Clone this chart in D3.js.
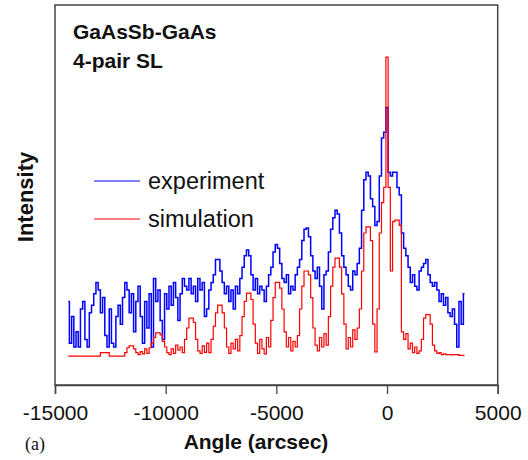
<!DOCTYPE html>
<html><head><meta charset="utf-8">
<script src="https://cdn.jsdelivr.net/npm/d3@7"></script>
<style>body{margin:0;background:#fff}svg{display:block}</style>
</head><body>
<svg id="c" width="528" height="460"></svg>
<script>
// sampling grid (arcsec): first angle and step between samples
const angleStart = -14400;
const angleStep = 100;
const xTicks = [-15000, -10000, -5000, 0, 5000];
const seriesNames = ["experiment", "simulation"];
const titleLines = ["GaAsSb-GaAs", "4-pair SL"];

const experiment = [
  22, 11, 18, 10, 14, 10, 20, 22, 12, 10,
  19, 21, 24, 27, 25, 19, 23, 13, 10, 20,
  11, 10, 18, 21, 16, 23, 27, 25, 19, 24,
  14, 22, 26, 18, 11, 22, 15, 24, 10, 28,
  22, 25, 17, 12, 24, 20, 26, 21, 27, 23,
  17, 24, 28, 26, 25, 28, 24, 26, 22, 28,
  25, 27, 18, 20, 25, 27, 29, 33, 33, 30,
  27, 24, 26, 22, 25, 20, 26, 24, 28, 31,
  34, 35.5, 34, 29, 25, 28, 24, 26, 25, 22,
  26, 29, 31, 35, 37, 36, 32, 28, 27, 29,
  24, 26, 25, 29, 31, 33, 38, 41, 41.3, 39,
  34, 30, 28, 31, 26, 20, 29, 30, 35, 41,
  44, 46, 45, 40, 34, 31, 29, 26, 25, 30,
  29, 32, 36, 46, 54, 56, 55, 49, 47, 42,
  43, 55, 65, 66.5, 73, 56, 55, 56, 56, 52,
  50, 40, 36, 34, 31, 27, 29, 26, 25, 30,
  31, 32, 33, 29, 27, 26, 27, 25, 22, 24,
  21, 23, 19, 18, 20, 16, 10, 22, 16, 24
];
const simulation = [
  7.6, 7.6, 7.6, 7.6, 7.6, 7.6, 7.6, 7.6, 7.6, 7.6,
  7.6, 7.6, 7.6, 7.6, 7.6, 8.5, 8.5, 8.5, 8.5, 7.6,
  7.6, 7.6, 7.6, 7.6, 7.6, 7.6, 8.5, 9.8, 10.3, 10.3,
  9.5, 8.5, 8.0, 8.8, 8.2, 9.5, 8.3, 9.8, 11, 12.5,
  13.7, 13.7, 13.2, 11.5, 10, 8.5, 8.0, 9.5, 8.3, 10.5,
  9.2, 10, 8.5, 12, 15, 17.6, 17.6, 16.5, 12, 9,
  8.3, 10.3, 8.6, 11, 8.5, 12, 15.5, 19, 21, 21,
  19, 15, 10, 8.3, 11, 9.5, 12, 9, 13, 18,
  22, 24.2, 24.2, 22.5, 16, 11, 8.3, 12, 9.5, 8.2,
  12.5, 10, 17, 23, 27, 27, 25.5, 20, 14, 10,
  12.5, 9, 11.5, 10, 13, 20, 26, 30, 30, 29,
  23, 15, 10.5, 9, 12.5, 10, 13.5, 10.5, 18, 26,
  31, 33.4, 33.4, 31, 24, 16, 9.5, 12.5, 10, 14.5,
  12, 15, 20, 30, 40, 41.6, 41.6, 38, 16, 8.7,
  20, 40, 48, 52, 86.3, 52, 30, 43, 43.4, 43.4,
  42, 14, 12, 13.5, 9.5, 11, 8.5, 10, 8.3, 9,
  12, 17.6, 18.5, 18.5, 16, 10.5, 9, 8.3, 8.5, 8.0,
  8.2, 8.0, 8.0, 7.9, 8.0, 8.0, 8.0, 7.8, 7.8, 7.8
];

const svg = d3.select("#c");
const L = 55, R = 497.7, T = 5, B = 385;
const x = d3.scaleLinear().domain([-15000, 5000]).range([L, R]);
const y = d3.scaleLinear().domain([0, 100]).range([B, T]);

const toPts = arr => arr.map((v, i) => [angleStart + i * angleStep, v]);
const line = d3.line().x(d => x(d[0])).y(d => y(d[1])).curve(d3.curveStep);

svg.append("path").attr("d", line(toPts(experiment)))
  .attr("fill", "none").attr("stroke", "#0000ff").attr("stroke-width", 1.5);
svg.append("path").attr("d", line(toPts(simulation)))
  .attr("fill", "none").attr("stroke", "#ff0000").attr("stroke-width", 1.2);

// frame
svg.append("rect").attr("x", L).attr("y", T).attr("width", R - L).attr("height", B - T)
  .attr("fill", "none").attr("stroke", "#444").attr("stroke-width", 1.5);

// x axis
const ax = d3.axisBottom(x).tickValues(xTicks).tickSize(9).tickFormat(d3.format("d"));
const g = svg.append("g").attr("transform", `translate(0,${B})`).call(ax);
g.select(".domain").attr("stroke", "#444").attr("stroke-width", 1.5);
g.selectAll(".tick line").attr("stroke", "#444").attr("stroke-width", 1.3);
g.selectAll(".tick text").attr("y", 35).attr("dy", 0)
  .attr("font-family", "Liberation Sans, Arial, sans-serif").attr("font-size", 21).attr("fill", "#111")
  .text(d => d < 0 ? "-" + Math.abs(d) : d);

// titles
const tg = svg.append("g").attr("font-family", "Liberation Sans, Arial, sans-serif").attr("font-weight", "bold").attr("fill", "#111");
tg.selectAll("text.t").data(titleLines).join("text").attr("class", "t")
  .attr("x", 73).attr("y", (d, i) => 39 + i * 29).attr("font-size", 21).text(d => d);
tg.append("text").attr("x", 256).attr("y", 449).attr("text-anchor", "middle").attr("font-size", 21).text("Angle (arcsec)");
tg.append("text").attr("transform", "translate(33,197) rotate(-90)").attr("text-anchor", "middle").attr("font-size", 22).text("Intensity");

svg.append("text").attr("x", 25).attr("y", 450).attr("font-family", "Liberation Serif, Times New Roman, serif")
  .attr("font-size", 18).attr("fill", "#111").text("(a)");

// legend
const colors = ["#0000ff", "#ff0000"];
const lg = svg.append("g");
seriesNames.forEach((n, i) => {
  const yy = 181 + i * 38;
  lg.append("line").attr("x1", 94).attr("x2", 140).attr("y1", yy).attr("y2", yy)
    .attr("stroke", colors[i]).attr("stroke-width", 1);
  lg.append("text").attr("x", 148).attr("y", yy + 8).attr("font-family", "Liberation Sans, Arial, sans-serif")
    .attr("font-size", 23.5).attr("fill", "#111").text(n);
});
</script>
</body></html>
